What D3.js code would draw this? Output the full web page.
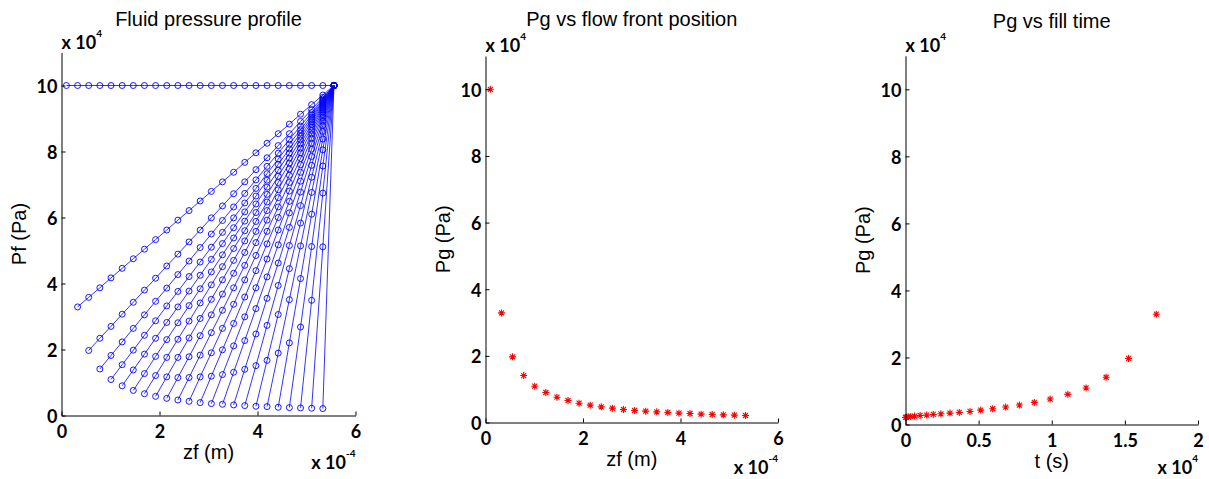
<!DOCTYPE html>
<html>
<head>
<meta charset="utf-8">
<script src="https://cdn.jsdelivr.net/npm/d3@7/dist/d3.min.js"></script>
<style>
    body { margin: 0; background: #fff; }
    svg { display: block; }
    .tick text, .multiplier { font-family: Lato, 'DejaVu Sans', sans-serif; font-weight: bold; font-size: 18px; fill: #000; }
    .title, .axis-label { font-family: 'Liberation Sans', Arial, sans-serif; font-size: 20px; fill: #000; }
    .domain, .tick line { stroke: #000; stroke-width: 1; }
    .profile { fill: none; stroke: #0000ff; stroke-width: 0.8; }
    .node { fill: none; stroke: #0000ff; stroke-width: 0.9; }
    .star { fill: none; stroke: #ff0000; stroke-width: 1.1; }
</style>
</head>
<body>
<svg id="chart" width="1209" height="479"></svg>
<script>
/**
 * Data (z in 1e-4 m, pressure in 1e4 Pa, time in 1e4 s).
 */
// Grid nodes along the flow direction
const nodeZ = [0.10, 0.328, 0.555, 0.783, 1.01, 1.238, 1.465, 1.693, 1.92, 2.148, 2.375, 2.603, 2.83,
    3.058, 3.285, 3.513, 3.74, 3.968, 4.195, 4.423, 4.65, 4.878, 5.105, 5.333, 5.56];

// Gas pressure at the flow front, one per step (front sits on node k)
const gasP = [10, 3.29, 1.97, 1.41, 1.09, 0.90, 0.76, 0.66, 0.58, 0.52, 0.47, 0.43, 0.39, 0.36,
    0.34, 0.32, 0.30, 0.28, 0.27, 0.25, 0.24, 0.23, 0.22, 0.21];

// Fill time of each step; the first step is not on the plot
const fillTime = [null, 1.715, 1.525, 1.372, 1.235, 1.11, 0.989, 0.881, 0.779, 0.685, 0.596, 0.514,
    0.441, 0.368, 0.304, 0.242, 0.19, 0.145, 0.10, 0.062, 0.036, 0.018, 0.006, 0];

// Fluid pressure profiles: profile k runs from node k to the last node
const profiles = [
    [10, 10, 10, 10, 10, 10, 10, 10, 10, 10, 10, 10, 10, 10, 10, 10, 10, 10, 10, 10, 10, 10, 10, 10, 10],
    [3.29, 3.58, 3.87, 4.17, 4.46, 4.75, 5.04, 5.33, 5.62, 5.92, 6.21, 6.5, 6.79, 7.08, 7.37, 7.67, 7.96, 8.25, 8.54, 8.83, 9.13, 9.42, 9.71, 10],
    [1.97, 2.34, 2.7, 3.07, 3.43, 3.8, 4.16, 4.53, 4.89, 5.26, 5.62, 5.99, 6.35, 6.72, 7.08, 7.45, 7.81, 8.18, 8.54, 8.91, 9.27, 9.64, 10],
    [1.41, 1.82, 2.23, 2.64, 3.05, 3.46, 3.86, 4.27, 4.68, 5.09, 5.5, 5.91, 6.32, 6.73, 7.14, 7.55, 7.95, 8.36, 8.77, 9.18, 9.59, 10],
    [1.09, 1.54, 1.98, 2.43, 2.87, 3.32, 3.76, 4.21, 4.65, 5.1, 5.55, 5.99, 6.44, 6.88, 7.33, 7.77, 8.22, 8.66, 9.11, 9.55, 10],
    [0.9, 1.38, 1.86, 2.34, 2.82, 3.29, 3.77, 4.25, 4.73, 5.21, 5.69, 6.17, 6.65, 7.13, 7.61, 8.08, 8.56, 9.04, 9.52, 10],
    [0.76, 1.27, 1.79, 2.3, 2.81, 3.33, 3.84, 4.35, 4.87, 5.38, 5.89, 6.41, 6.92, 7.43, 7.95, 8.46, 8.97, 9.49, 10],
    [0.66, 1.21, 1.76, 2.31, 2.86, 3.41, 3.96, 4.51, 5.06, 5.6, 6.15, 6.7, 7.25, 7.8, 8.35, 8.9, 9.45, 10],
    [0.58, 1.17, 1.76, 2.35, 2.94, 3.52, 4.11, 4.7, 5.29, 5.88, 6.47, 7.06, 7.65, 8.23, 8.82, 9.41, 10],
    [0.52, 1.15, 1.78, 2.42, 3.05, 3.68, 4.31, 4.94, 5.58, 6.21, 6.84, 7.47, 8.1, 8.74, 9.37, 10],
    [0.47, 1.15, 1.83, 2.51, 3.19, 3.87, 4.55, 5.24, 5.92, 6.6, 7.28, 7.96, 8.64, 9.32, 10],
    [0.43, 1.17, 1.9, 2.64, 3.37, 4.11, 4.85, 5.58, 6.32, 7.06, 7.79, 8.53, 9.26, 10],
    [0.39, 1.19, 1.99, 2.79, 3.59, 4.39, 5.2, 6, 6.8, 7.6, 8.4, 9.2, 10],
    [0.36, 1.24, 2.11, 2.99, 3.87, 4.74, 5.62, 6.49, 7.37, 8.25, 9.12, 10],
    [0.34, 1.31, 2.27, 3.24, 4.2, 5.17, 6.14, 7.1, 8.07, 9.03, 10],
    [0.32, 1.4, 2.47, 3.55, 4.62, 5.7, 6.77, 7.85, 8.92, 10],
    [0.3, 1.51, 2.73, 3.94, 5.15, 6.36, 7.58, 8.79, 10],
    [0.28, 1.67, 3.06, 4.45, 5.83, 7.22, 8.61, 10],
    [0.27, 1.89, 3.51, 5.14, 6.76, 8.38, 10],
    [0.25, 2.2, 4.15, 6.1, 8.05, 10],
    [0.24, 2.68, 5.12, 7.56, 10],
    [0.23, 3.49, 6.74, 10],
    [0.22, 5.11, 10],
    [0.21, 10]
];

// Axis ticks
const pTicks = [0, 2, 4, 6, 8, 10],
    zTicks = [0, 2, 4, 6],
    tTicks = [0, 0.5, 1, 1.5, 2];

/**
 * MATLAB '*' marker.
 */
const starPath = 'M-3.5,0H3.5M0,-3.5V3.5M-2.5,-2.5L2.5,2.5M-2.5,2.5L2.5,-2.5';

/**
 * Draws one panel: marks, axes, labels.
 */
function drawPanel(svg, p) {
    const xScale = d3.scaleLinear().domain([0, p.xMax]).range([p.left, p.right]),
        yScale = d3.scaleLinear().domain([0, 11]).range([p.bottom, p.top]);

    const g = svg.append('g').attr('class', 'panel');

    // Marks first, axes on top like MATLAB
    const items = g.append('g').attr('class', 'items');
    p.marks(items, xScale, yScale);

    // Axes, ticks pointing inward
    const xAxis = d3.axisBottom(xScale).tickValues(p.xTicks).tickFormat(String)
        .tickSizeInner(-4).tickSizeOuter(0).tickPadding(9.5);
    const yAxis = d3.axisLeft(yScale).tickValues(pTicks).tickFormat(String)
        .tickSizeInner(-4).tickSizeOuter(0).tickPadding(4);

    g.append('g').attr('class', 'x-axis')
        .attr('transform', 'translate(0,' + p.bottom + ')')
        .call(xAxis)
        .call(s => s.attr('font-family', null).attr('font-size', null));
    g.append('g').attr('class', 'y-axis')
        .attr('transform', 'translate(' + p.left + ',0)')
        .call(yAxis)
        .call(s => s.attr('font-family', null).attr('font-size', null))
        .call(s => s.selectAll('text').attr('dy', '0.38em'));

    // Title
    g.append('text').attr('class', 'title')
        .attr('x', (p.left + p.right) / 2).attr('y', p.titleY)
        .attr('text-anchor', 'middle')
        .text(p.title);

    // Axis labels
    g.append('text').attr('class', 'axis-label')
        .attr('x', (p.left + p.right) / 2).attr('y', p.bottom + 43)
        .attr('text-anchor', 'middle')
        .text(p.xLabel);
    g.append('text').attr('class', 'axis-label')
        .attr('transform', 'translate(' + (p.left - 36) + ',' + ((p.top + p.bottom) / 2) + ') rotate(-90)')
        .attr('text-anchor', 'middle')
        .text(p.yLabel);

    // Exponent multipliers
    multiplier(g, p.left, p.top - 4, 'start', '4');
    multiplier(g, p.right, Math.min(p.bottom + 53, 474), 'end', p.xExp);
}

/**
 * "x 10^n" label.
 */
function multiplier(g, x, y, anchor, exp) {
    const t = g.append('text').attr('class', 'multiplier')
        .attr('x', x).attr('y', y)
        .attr('text-anchor', anchor);
    t.append('tspan').text('x 10');
    t.append('tspan').attr('dy', -12).attr('font-size', '10px').text(exp);
}

/**
 * Left panel: one line with circle markers per step.
 */
function drawProfiles(container, xScale, yScale) {
    const line = d3.line().x(d => xScale(d[0])).y(d => yScale(d[1]));

    profiles.forEach((profile, k) => {
        const pts = profile.map((v, i) => [nodeZ[k + i], v]);
        const grp = container.append('g').attr('class', 'item');
        grp.append('path').attr('class', 'profile').attr('d', line(pts));
        grp.selectAll('circle').data(pts)
            .enter().append('circle')
                .attr('class', 'node')
                .attr('cx', d => xScale(d[0]))
                .attr('cy', d => yScale(d[1]))
                .attr('r', 3);
    });
}

function drawStars(container, pts, xScale, yScale) {
    container.selectAll('path.star').data(pts)
        .enter().append('path')
            .attr('class', 'star')
            .attr('transform', d => 'translate(' + xScale(d[0]) + ',' + yScale(d[1]) + ')')
            .attr('d', starPath);
}

/**
 * Middle panel: gas pressure against front position.
 */
function drawFrontPressure(container, xScale, yScale) {
    const pts = gasP.map((v, k) => [nodeZ[k], v]);
    drawStars(container, pts, xScale, yScale);
}

/**
 * Right panel: gas pressure against fill time.
 */
function drawFillTime(container, xScale, yScale) {
    const pts = gasP.map((v, k) => [fillTime[k], v]).filter(d => d[0] !== null);
    drawStars(container, pts, xScale, yScale);
}

/**
 * Panels: plot box in pixels plus texts.
 */
const panels = [
    { left: 61.5, right: 355.5, top: 52.5, bottom: 415.5, titleY: 26, xMax: 6, xTicks: zTicks,
      title: 'Fluid pressure profile', xLabel: 'zf (m)', yLabel: 'Pf (Pa)', xExp: '-4', marks: drawProfiles },
    { left: 485.5, right: 778, top: 56, bottom: 422.5, titleY: 26, xMax: 6, xTicks: zTicks,
      title: 'Pg vs flow front position', xLabel: 'zf (m)', yLabel: 'Pg (Pa)', xExp: '-4', marks: drawFrontPressure },
    { left: 905.5, right: 1198, top: 55.8, bottom: 424.5, titleY: 28, xMax: 2, xTicks: tTicks,
      title: 'Pg vs fill time', xLabel: 't (s)', yLabel: 'Pg (Pa)', xExp: '4', marks: drawFillTime }
];

const svg = d3.select('#chart');
panels.forEach(p => drawPanel(svg, p));
</script>
</body>
</html>
